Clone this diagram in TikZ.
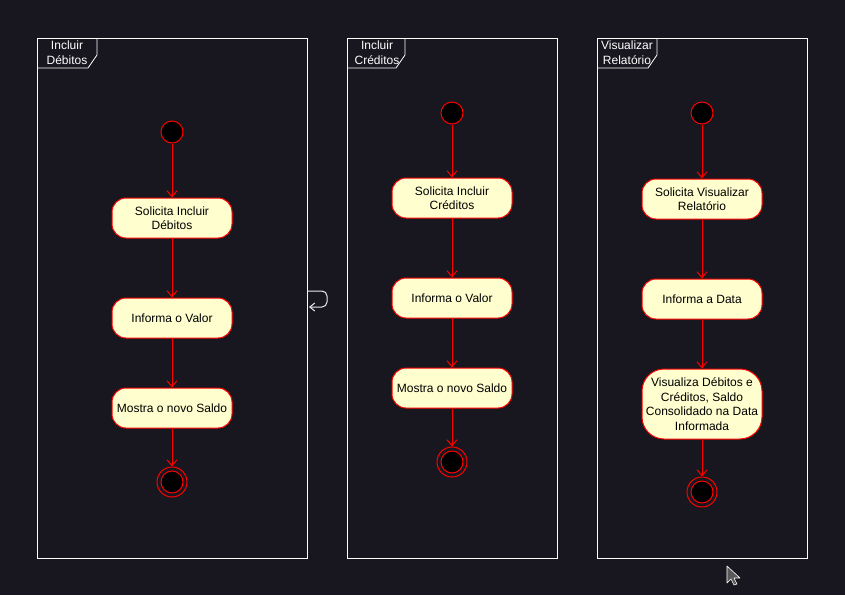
\documentclass[tikz,border=0pt]{standalone}
\usepackage{fontspec}
\setmainfont{Liberation Sans}
\usetikzlibrary{arrows.meta}
\definecolor{bg}{HTML}{18161E}
\definecolor{actfill}{HTML}{FEFECE}
\definecolor{umlred}{HTML}{FF0000}
\begin{document}
\begin{tikzpicture}[x=1pt,y=-1pt,
  actbox/.style={draw=umlred, fill=actfill, rounded corners=14pt, minimum width=120pt, minimum height=40pt, align=center, font=\fontsize{12}{14.5}\selectfont, text=black, line width=1pt, inner sep=2pt},
  startdot/.style={circle, draw=umlred, fill=black, minimum size=22pt, inner sep=0pt, line width=1pt},
  endouter/.style={circle, draw=umlred, minimum size=30pt, inner sep=0pt, line width=1pt},
  endinner/.style={circle, draw=umlred, fill=black, minimum size=22pt, inner sep=0pt, line width=1pt},
  flow/.style={draw=umlred, line width=1pt, -{Straight Barb[length=6pt,width=10pt]}},
  framebox/.style={draw=white, line width=0.8pt},
  framelbl/.style={text=white, align=center, font=\fontsize{12}{15}\selectfont, inner sep=0pt}
]
\fill[bg] (0,0) rectangle (845,595);
\useasboundingbox (0,0) rectangle (845,595);

% frames
\draw[framebox] (37,38) rectangle (307,558);
\draw[framebox] (37,68) -- (88,68) -- (97,55) -- (97,38);
\node[framelbl] (f1) at (67,53) {Incluir\\Débitos};

\draw[framebox] (347,38) rectangle (557,558);
\draw[framebox] (347,68) -- (396,68) -- (405,55) -- (405,38);
\node[framelbl] (f2) at (377,53) {Incluir\\Créditos};

\draw[framebox] (597,38) rectangle (807,558);
\draw[framebox] (597,68) -- (648,68) -- (657,55) -- (657,38);
\node[framelbl] (f3) at (627,53) {Visualizar\\Relatório};

% column 1
\node[startdot] (s1) at (172,132) {};
\node[actbox] (a1) at (172,218) {Solicita Incluir\\Débitos};
\node[actbox] (a2) at (172,318) {Informa o Valor};
\node[actbox] (a3) at (172,408) {Mostra o novo Saldo};
\node[endouter] (e1) at (172,482) {};
\node[endinner] at (e1) {};
\draw[flow] (s1) -- (a1);
\draw[flow] (a1) -- (a2);
\draw[flow] (a2) -- (a3);
\draw[flow] (a3) -- (e1);

% column 2
\node[startdot] (s2) at (452,113) {};
\node[actbox] (b1) at (452,198) {Solicita Incluir\\Créditos};
\node[actbox] (b2) at (452,298) {Informa o Valor};
\node[actbox] (b3) at (452,388) {Mostra o novo Saldo};
\node[endouter] (e2) at (452,462) {};
\node[endinner] at (e2) {};
\draw[flow] (s2) -- (b1);
\draw[flow] (b1) -- (b2);
\draw[flow] (b2) -- (b3);
\draw[flow] (b3) -- (e2);

% column 3
\node[startdot] (s3) at (702,113) {};
\node[actbox] (c1) at (702,199) {Solicita Visualizar\\Relatório};
\node[actbox] (c2) at (702,299) {Informa a Data};
\node[actbox, minimum height=70pt, rounded corners=22pt] (c3) at (702,404) {Visualiza Débitos e\\Créditos, Saldo\\Consolidado na Data\\Informada};
\node[endouter] (e3) at (702,492) {};
\node[endinner] at (e3) {};
\draw[flow] (s3) -- (c1);
\draw[flow] (c1) -- (c2);
\draw[flow] (c2) -- (c3);
\draw[flow] (c3) -- (e3);

% self loop at frame edge
\coordinate (l1) at (307,291);
\coordinate (l2) at (309,307);
\draw[draw=white!85!gray, line width=1pt, rounded corners=5pt, -{Straight Barb[length=5pt,width=8pt]}] (l1) -- (327,291) -- (327,307) -- (l2);

% mouse cursor
\draw[fill=gray!70!black, draw=white, line width=0.6pt, line join=round] (727,566) -- (727,583) -- (731,579) -- (734,585) -- (737,584) -- (734,578) -- (740,578) -- cycle;
\end{tikzpicture}
\end{document}
